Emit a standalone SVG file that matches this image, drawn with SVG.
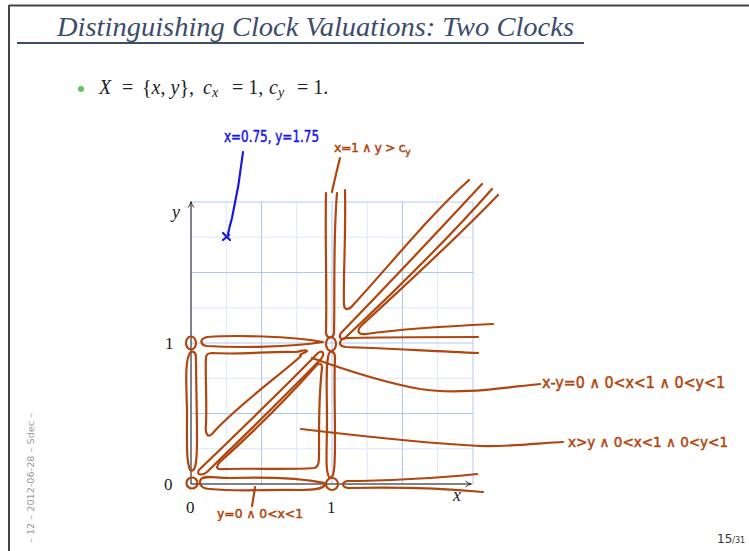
<svg xmlns="http://www.w3.org/2000/svg" width="749" height="551" viewBox="0 0 749 551">
<defs>
<style>
.frame{stroke:#454545;stroke-width:2;fill:none}
.gmin{stroke:#dde7fb;stroke-width:1;fill:none}
.gmaj{stroke:#aec8f6;stroke-width:1;fill:none}
.axis{stroke:#222;stroke-width:1;fill:none}
.ink{stroke:#b2450c;stroke-width:2.2;fill:none;stroke-linecap:round;stroke-linejoin:round}
.blue{stroke:#1616e6;stroke-width:2.2;fill:none;stroke-linecap:round;stroke-linejoin:round}
.hand{font-family:"DejaVu Sans",sans-serif;fill:#b2450c;stroke:#b2450c;stroke-width:0.5}
.math{font-family:"Liberation Serif",serif;fill:#222}
</style>
<marker id="arr" markerWidth="8" markerHeight="8" refX="6" refY="4" orient="auto" markerUnits="userSpaceOnUse">
<path d="M0.5,1 Q3,3.2 6.5,4 Q3,4.8 0.5,7" fill="none" stroke="#222" stroke-width="0.9"/>
</marker>
</defs>
<rect width="749" height="551" fill="#fff"/>
<g id="frame">
<path class="frame" d="M9,5.5 H749 M9,5 V551"/>
</g>
<g id="title">
<text x="57" y="36" font-family="Liberation Serif,serif" font-style="italic" font-size="27.5" fill="#3d4b6d" textLength="517" lengthAdjust="spacingAndGlyphs">Distinguishing Clock Valuations: Two Clocks</text>
<path d="M17,43 H584" stroke="#3d4b6d" stroke-width="2"/>
</g>
<g id="bullet">
<circle cx="81" cy="89" r="3" fill="#62c45e"/>
<text class="math" y="94" font-size="20"><tspan x="99" font-style="italic">X</tspan><tspan x="122">=</tspan><tspan x="142">{</tspan><tspan font-style="italic">x</tspan><tspan>, </tspan><tspan font-style="italic">y</tspan><tspan>},</tspan><tspan x="203" font-style="italic">c</tspan><tspan x="212" font-style="italic" font-size="14" dy="3">x</tspan><tspan x="232" dy="-3">= 1,</tspan><tspan x="269" font-style="italic">c</tspan><tspan x="278" font-style="italic" font-size="14" dy="3">y</tspan><tspan x="297" dy="-3">= 1.</tspan></text>
</g>
<g id="grid">
<path class="gmin" d="M226.25,202 V484 M296.75,202 V484 M367.25,202 V484 M437.75,202 V484 M191,448.75 H473 M191,378.25 H473 M191,307.75 H473 M191,237.25 H473"/>
<path class="gmaj" d="M191,202 V484 M261.5,202 V484 M332,202 V484 M402.5,202 V484 M473,202 V484 M191,484 H473 M191,413.5 H473 M191,343 H473 M191,272.5 H473 M191,202 H473"/>
</g>
<g id="axes">
<path class="axis" d="M191,484 V202" marker-end="url(#arr)"/>
<path class="axis" d="M191,484 H471" marker-end="url(#arr)"/>
<text class="math" x="172" y="218" font-size="18" font-style="italic">y</text>
<text class="math" x="453" y="501" font-size="18" font-style="italic">x</text>
<text class="math" x="165" y="349" font-size="17">1</text>
<text class="math" x="164" y="490" font-size="17">0</text>
<text class="math" x="186" y="513" font-size="17">0</text>
<text class="math" x="327" y="513" font-size="17">1</text>
</g>
<g id="regions">
<ellipse class="ink" cx="191" cy="343" rx="5" ry="6.5"/>
<ellipse class="ink" cx="331" cy="344" rx="5" ry="7"/>
<ellipse class="ink" cx="192" cy="483" rx="5.5" ry="5.5"/>
<ellipse class="ink" cx="332" cy="484" rx="6" ry="6"/>
<path class="ink" d="M323,342 C290,336 235,335 207,337 C199,339 200,345 207,346 C240,348 290,347 323,342 Z"/>
<path class="ink" d="M191,352 C185,356 186,380 187,410 C187,440 186,460 190,470 C195,473 197,465 197,440 C197,410 196,380 196,358 C196,352 193,351 191,352 Z"/>
<path class="ink" d="M330,352 C325,356 327,390 327,420 C327,450 325,470 329,477 C334,480 335,470 335,440 C335,410 334,380 335,358 C335,352 332,351 330,352 Z"/>
<path class="ink" d="M325,483 C300,478 260,477 230,478 C215,478 205,475 201,479 C198,484 202,489 210,489 C240,492 270,489 300,490 C315,490 322,489 325,485 Z"/>
<path class="ink" d="M212,353 C240,355 270,351 296,352 C302,351 306,349 307,351 C304,354 298,354 301,356 C280,375 232,410 212,434 C207,439 205,432 206,425 C207,400 205,370 206,358 C206,354 208,353 212,353 Z"/>
<path class="ink" d="M199,470 C230,440 280,392 318,353 C323,349 325,354 321,359 C285,396 240,440 207,472 C202,476 196,475 199,470 Z"/>
<path class="ink" d="M222,469 C250,468 290,470 314,468 C320,467 319,460 319,440 C319,410 320,385 322,368 C322,362 318,363 315,367 C290,395 250,435 220,462 C215,467 217,470 222,469 Z"/>
<path class="ink" d="M326,193 C325,240 327,290 326,333 C327,339 333,339 334,333 C335,290 333,240 337,193"/>
<path class="ink" d="M345,190 C346,240 343,280 344,305 C345,312 350,309 354,304 C390,265 430,215 469,180"/>
<path class="ink" d="M482,184 C430,240 375,298 341,333 C338,338 342,341 346,337 C380,305 440,248 492,189"/>
<path class="ink" d="M498,195 C455,240 400,290 362,325 C356,331 358,335 366,334 C400,329 450,326 493,324"/>
<path class="ink" d="M478,337 C440,337 380,337 346,338 C338,340 338,346 346,347 C380,348 430,351 478,353"/>
<path class="ink" d="M477,474 C440,478 380,481 347,481 C341,483 342,487 348,488 C390,487 440,488 483,492"/>
</g>
<g id="connectors">
<path class="ink" d="M340,158 C337,170 334,182 332,192"/>
<path class="ink" d="M312,358 C340,368 380,382 420,389 C460,395 500,388 540,384"/>
<path class="ink" d="M301,429 C360,436 420,443 480,446 C510,447 540,443 563,442"/>
<path class="ink" d="M255,487 C254,495 253,500 252,506"/>
<path class="blue" d="M243,152 C241,170 236,200 232,218 C230,225 229,229 228,234"/>
</g>
<g id="point">
<path class="blue" d="M223,233 L230,240 M223,240 L229,235"/>
<text x="224" y="142" font-family="DejaVu Sans,sans-serif" font-size="16" fill="#1616e6" stroke="#1616e6" stroke-width="0.5" textLength="95" lengthAdjust="spacingAndGlyphs">x=0.75, y=1.75</text>
</g>
<g id="labels">
<text class="hand" x="334" y="152" font-size="12.5" letter-spacing="-0.4">x=1 ∧ y &gt; c<tspan font-size="9" dy="3">y</tspan></text>
<text class="hand" x="542" y="388" font-size="15" textLength="183" lengthAdjust="spacingAndGlyphs">x-y=0 ∧ 0&lt;x&lt;1 ∧ 0&lt;y&lt;1</text>
<text class="hand" x="568" y="447" font-size="14" textLength="160" lengthAdjust="spacingAndGlyphs">x&gt;y ∧ 0&lt;x&lt;1 ∧ 0&lt;y&lt;1</text>
<text class="hand" x="217" y="518" font-size="12" textLength="86" lengthAdjust="spacingAndGlyphs">y=0 ∧ 0&lt;x&lt;1</text>
</g>
<g id="footer">
<text transform="translate(34,478) rotate(-90)" text-anchor="middle" font-family="DejaVu Sans,sans-serif" font-size="8" fill="#9a9a9a" textLength="130" lengthAdjust="spacingAndGlyphs">– 12 – 2012-06-28 – Sdec –</text>
<text x="717" y="543" font-family="DejaVu Sans,sans-serif" font-size="12" fill="#333">15<tspan font-size="8">/31</tspan></text>
</g>
</svg>
